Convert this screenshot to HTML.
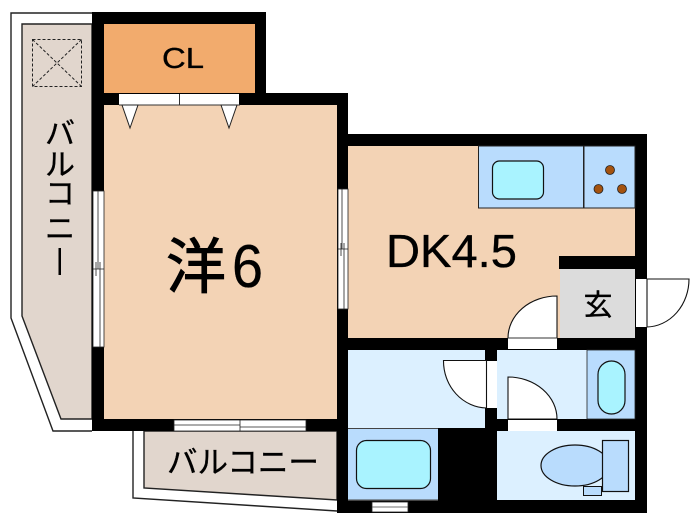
<!DOCTYPE html>
<html><head><meta charset="utf-8">
<style>
html,body{margin:0;padding:0;background:#fff;width:700px;height:525px;overflow:hidden}
svg{display:block;filter:blur(0.35px)}
text{font-family:"Liberation Sans","Noto Sans CJK JP",sans-serif;fill:#000;stroke:#000;stroke-width:0.35px}
</style></head><body>
<svg width="700" height="525" viewBox="0 0 700 525" xmlns="http://www.w3.org/2000/svg">
<!-- balconies -->
<polyline points="92,13 11,13 11,318 53,431 92,431" fill="#fff" stroke="#222" stroke-width="1.400"/>
<polygon points="22,24 92,24 92,419 61,419 22,316" fill="#e1d6cd" stroke="#222" stroke-width="1.400"/>
<polyline points="133,431 133,498 337,511" fill="none" stroke="#222" stroke-width="1.400"/>
<polygon points="144,431 337,431 337,500 144,488" fill="#e1d6cd" stroke="#222" stroke-width="1.400"/>
<g fill="none" stroke="#222" stroke-width="1" stroke-dasharray="3 2">
<rect x="32.500" y="39.500" width="49" height="47"/>
<path d="M32.500 39.500L81.500 86.500M81.500 39.500L32.500 86.500"/>
</g>
<!-- walls -->
<rect x="92" y="12" width="174" height="93" fill="#000"/>
<rect x="92" y="93" width="256" height="338" fill="#000"/>
<rect x="337" y="134" width="310" height="379" fill="#000"/>
<!-- rooms -->
<rect x="104" y="24" width="151" height="69" fill="#f2ab6d"/>
<rect x="104" y="105" width="233" height="314" fill="#f3d3b5"/>
<rect x="348" y="146" width="287" height="192" fill="#f3d3b5"/>
<rect x="559" y="256" width="76" height="13" fill="#000"/>
<rect x="560" y="269" width="75" height="69" fill="#dcdcdc"/>
<rect x="348" y="350" width="137" height="78" fill="#dcf0ff"/>
<rect x="497" y="350" width="90" height="69" fill="#dcf0ff"/>
<rect x="497" y="431" width="138" height="69" fill="#dcf0ff"/>
<rect x="587" y="350" width="48" height="69" fill="#b9dcfd" stroke="#222" stroke-width="0.8"/>
<rect x="348" y="429" width="90" height="71" fill="#b9dcfd"/>
<rect x="348" y="499.500" width="90" height="1.500" fill="#444"/>
<path d="M348 428.500H438" stroke="#444" stroke-width="1"/>
<!-- kitchen -->
<rect x="478.500" y="146" width="105" height="62" fill="#b9dcfd" stroke="#222" stroke-width="1"/>
<rect x="584" y="146" width="51" height="62" fill="#b9dcfd" stroke="#222" stroke-width="1"/>
<rect x="492.500" y="161" width="51" height="38" rx="7" fill="#a9f3ff" stroke="#111" stroke-width="1.200"/>
<g fill="#a4520e" stroke="#222" stroke-width="0.8">
<circle cx="610" cy="170" r="4.500"/><circle cx="598.500" cy="189" r="4.500"/><circle cx="622" cy="189" r="4.500"/>
</g>
<!-- fixtures -->
<rect x="598" y="361" width="27" height="53" rx="13.500" fill="#a9f3ff" stroke="#111" stroke-width="1.200"/>
<rect x="356.500" y="440.500" width="74" height="48" rx="10" fill="#a9f3ff" stroke="#111" stroke-width="1.200"/>
<ellipse cx="575" cy="465.500" rx="34" ry="20.500" fill="#b9dcfd" stroke="#111" stroke-width="1.200"/>
<rect x="602.500" y="440.500" width="26" height="51" fill="#b9dcfd" stroke="#111" stroke-width="1.200"/>
<rect x="583.500" y="486.500" width="18" height="9" fill="#b9dcfd" stroke="#111" stroke-width="1"/>
<!-- closet doors -->
<rect x="119" y="94" width="120" height="11" fill="#fff"/>
<path d="M119 105H240M179.500 94V105" stroke="#333" stroke-width="1" fill="none"/>
<path d="M122 105H138L130 128Z M221 105H237L229 128Z" fill="#fff" stroke="#222" stroke-width="1"/>
<!-- windows -->
<g fill="#fff" stroke="#222" stroke-width="0.8">
<rect x="93" y="191" width="11" height="156"/>
<rect x="338" y="189" width="10" height="120"/>
<rect x="174" y="420" width="132" height="11"/>
<rect x="372" y="502" width="36" height="10"/>
</g>
<path d="M98 191V269M100 269V347M93 269H104M96 262V276M100 262V276" stroke="#222" stroke-width="0.8" fill="none"/>
<path d="M342 189V249M344 249V309M338 249H348M341 243V256M344 243V256" stroke="#222" stroke-width="0.8" fill="none"/>
<path d="M174 425H240M240 427H306M240 420V431" stroke="#222" stroke-width="0.8" fill="none"/>
<path d="M372 507H408" stroke="#444" stroke-width="0.8"/>
<!-- doors -->
<path d="M508 338A49 42 0 0 1 557 296V338Z" fill="#fff" stroke="#111" stroke-width="1.100"/>
<rect x="508" y="338" width="49" height="11" fill="#fff"/>
<path d="M508 338H557" stroke="#333" stroke-width="1"/>
<rect x="636" y="279" width="11" height="48" fill="#fff"/>
<path d="M647 279H689A43 48 0 0 1 647 327Z" fill="#fff" stroke="#111" stroke-width="1.100"/>
<rect x="487" y="361" width="10" height="47" fill="#fff"/>
<path d="M443.500 360.500H486.500V408A44 47 0 0 1 443.500 360.500Z" fill="#fff" stroke="#111" stroke-width="1.100"/>
<path d="M508 377A49 42 0 0 1 557 419H508Z" fill="#fff" stroke="#111" stroke-width="1.100"/>
<rect x="508" y="420" width="49" height="11" fill="#fff"/>
<!-- labels -->
<text x="162" y="68" font-size="29" textLength="42" lengthAdjust="spacingAndGlyphs">CL</text>
<text x="166" y="288" font-size="60" style="stroke-width:1px">洋</text>
<text x="232" y="287" font-size="60" textLength="31" lengthAdjust="spacingAndGlyphs">6</text>
<text x="386" y="267" font-size="46" textLength="131" lengthAdjust="spacingAndGlyphs">DK4.5</text>
<text x="598" y="315" font-size="29" text-anchor="middle">玄</text>
<text x="167" y="473" font-size="30.500">バルコニー</text>
<text x="45" y="144" font-size="30">バ</text>
<text x="45" y="175" font-size="30">ル</text>
<text x="45" y="204" font-size="30">コ</text>
<text x="45" y="239" font-size="30">ニ</text>
<rect x="58.500" y="248" width="2.500" height="27" fill="#000"/>
</svg>
</body></html>
